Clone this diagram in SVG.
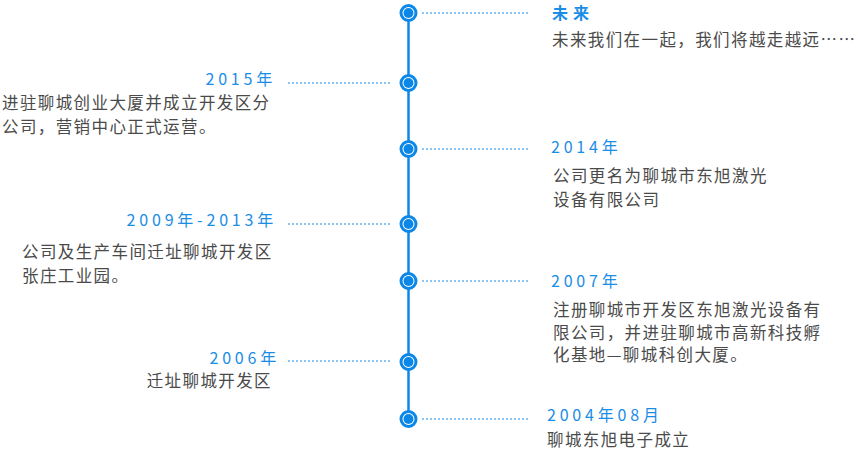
<svg xmlns="http://www.w3.org/2000/svg" width="858" height="450" viewBox="0 0 858 450">
<style>
.yr{font-family:"Noto Sans CJK SC","Noto Sans",sans-serif;font-size:16px;fill:#1a8de6;letter-spacing:3.8px}
.tx{font-family:"Noto Sans CJK SC","Noto Sans",sans-serif;font-size:16.5px;fill:#4a4a4a;letter-spacing:1.4px}
.dot{stroke:#1a8de6;stroke-width:1;stroke-dasharray:2 2;fill:none}
.ring{fill:#fff;stroke:#0b87e8;stroke-width:3}
.core{fill:#0b87e8}
.end{text-anchor:end}
</style>
<rect width="858" height="450" fill="#fff"/>
<g id="connectors">
<line x1="408.5" y1="13" x2="408.5" y2="419" stroke="#0b87e8" stroke-width="2.5"/>
<line class="dot" x1="422" y1="13" x2="528" y2="13"/>
<line class="dot" x1="288" y1="83" x2="392" y2="83"/>
<line class="dot" x1="422" y1="149" x2="528" y2="149"/>
<line class="dot" x1="288" y1="224" x2="392" y2="224"/>
<line class="dot" x1="422" y1="281" x2="528" y2="281"/>
<line class="dot" x1="288" y1="361" x2="392" y2="361"/>
<line class="dot" x1="422" y1="419" x2="528" y2="419"/>
</g>
<g id="future">
<circle class="ring" cx="408.5" cy="13" r="7.5"/><circle class="core" cx="408.5" cy="13" r="5"/>
<text class="yr" x="552" y="19" style="font-weight:bold;letter-spacing:5px">未来</text>
<text class="tx" x="552" y="46">未来我们在一起，我们将越走越远……</text>
</g>
<g id="y2015">
<circle class="ring" cx="408.5" cy="83" r="7.5"/><circle class="core" cx="408.5" cy="83" r="5"/>
<text class="yr end" x="276" y="85">2015年</text>
<text class="tx" x="2" y="108.5">进驻聊城创业大厦并成立开发区分</text>
<text class="tx" x="2" y="132.5">公司，营销中心正式运营。</text>
</g>
<g id="y2014">
<circle class="ring" cx="408.5" cy="149" r="7.5"/><circle class="core" cx="408.5" cy="149" r="5"/>
<text class="yr" x="551" y="153">2014年</text>
<text class="tx" x="553" y="181.5">公司更名为聊城市东旭激光</text>
<text class="tx" x="553" y="206">设备有限公司</text>
</g>
<g id="y2009">
<circle class="ring" cx="408.5" cy="224" r="7.5"/><circle class="core" cx="408.5" cy="224" r="5"/>
<text class="yr end" x="277" y="226">2009年-2013年</text>
<text class="tx" x="22" y="257.5">公司及生产车间迁址聊城开发区</text>
<text class="tx" x="22" y="281.5">张庄工业园。</text>
</g>
<g id="y2007">
<circle class="ring" cx="408.5" cy="281" r="7.5"/><circle class="core" cx="408.5" cy="281" r="5"/>
<text class="yr" x="551" y="287">2007年</text>
<text class="tx" x="553" y="316">注册聊城市开发区东旭激光设备有</text>
<text class="tx" x="553" y="338.5">限公司，并进驻聊城市高新科技孵</text>
<text class="tx" x="553" y="361">化基地—聊城科创大厦。</text>
</g>
<g id="y2006">
<circle class="ring" cx="408.5" cy="362" r="7.5"/><circle class="core" cx="408.5" cy="362" r="5"/>
<text class="yr end" x="280" y="363.5">2006年</text>
<text class="tx end" x="272" y="387">迁址聊城开发区</text>
</g>
<g id="y2004">
<circle class="ring" cx="408.5" cy="419" r="7.5"/><circle class="core" cx="408.5" cy="419" r="5"/>
<text class="yr" x="547" y="421">2004年08月</text>
<text class="tx" x="547" y="446">聊城东旭电子成立</text>
</g>
</svg>
